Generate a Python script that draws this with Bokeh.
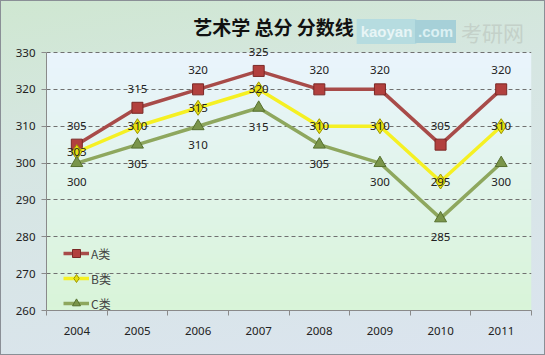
import numpy as np
from bokeh.plotting import figure
from bokeh.models import FixedTicker, Legend, LegendItem, Label, Range1d
from bokeh.embed import file_html
from bokeh.resources import INLINE
from bokeh.core.properties import value

years = ["2004", "2005", "2006", "2007", "2008", "2009", "2010", "2011"]
a_vals = [305, 315, 320, 325, 320, 320, 305, 320]
b_vals = [303, 310, 315, 320, 310, 310, 295, 310]
c_vals = [300, 305, 310, 315, 305, 300, 285, 300]
y_ticks = [260, 270, 280, 290, 300, 310, 320, 330]
title_text = "艺术学 总分 分数线"

xs = list(range(len(years)))
FONT = "Noto Sans"

# layout in pixels
W, H = 545, 355
LEFT, RIGHT, BOTTOM = 45, 15, 46
AREA_TOP = 51                      # pixel row of the top of the value area
frame_h = H - BOTTOM
y_lo, y_hi = y_ticks[0], y_ticks[-1]
area_h = frame_h - AREA_TOP
y_top = y_lo + (y_hi - y_lo) * frame_h / area_h   # frame extends over the title band

p = figure(width=W, height=H, output_backend="svg", toolbar_location=None,
           x_range=Range1d(-0.5, len(years) - 0.5), y_range=Range1d(y_lo, y_top),
           min_border_left=LEFT, min_border_right=RIGHT, min_border_top=0,
           min_border_bottom=BOTTOM)
p.border_fill_alpha = 0
p.background_fill_alpha = 0
p.outline_line_color = None
p.styles = {"background": "linear-gradient(170deg, #cfe7d1 0%, #d6e6e2 35%, #dbe4ef 100%)",
            "border": "1px solid #8a8f96", "box-sizing": "border-box"}

# plot-area gradient (light blue at top to light green at bottom)
n = 64
top = np.array([234, 244, 253], dtype=float)
bot = np.array([217, 245, 217], dtype=float)
img = np.zeros((n, 1), dtype=np.uint32)
view = img.view(dtype=np.uint8).reshape((n, 1, 4))
for i in range(n):
    t = i / (n - 1)
    c = bot * (1 - t) + top * t
    view[i, 0, 0:3] = c.astype(np.uint8)
    view[i, 0, 3] = 255
p.image_rgba(image=[img], x=-0.5, y=y_lo, dw=len(years), dh=y_hi - y_lo, level="image")

# axes
p.xaxis.ticker = FixedTicker(ticks=xs, minor_ticks=[i - 0.5 for i in range(len(years) + 1)])
p.xaxis.major_label_overrides = {i: y for i, y in enumerate(years)}
p.xaxis.major_tick_line_color = None
p.xaxis.minor_tick_in = 0
p.xaxis.minor_tick_out = 5
p.xaxis.minor_tick_line_color = "#8a8a8a"
p.xaxis.axis_line_color = "#8a8a8a"
p.xaxis.major_label_standoff = 10
p.yaxis.ticker = FixedTicker(ticks=y_ticks)
p.yaxis.bounds = (y_lo, y_hi)
p.yaxis.minor_tick_line_color = None
p.yaxis.major_tick_in = 0
p.yaxis.major_tick_out = 5
p.yaxis.major_tick_line_color = "#8a8a8a"
p.yaxis.axis_line_color = "#8a8a8a"
p.yaxis.major_label_standoff = 6
for ax in (p.xaxis, p.yaxis):
    ax.major_label_text_font = FONT
    ax.major_label_text_font_size = "11.5px"
    ax.major_label_text_color = "#222222"

p.xgrid.grid_line_color = None
p.ygrid.ticker = FixedTicker(ticks=y_ticks[1:])
p.ygrid.grid_line_color = "#707070"
p.ygrid.grid_line_dash = "4 3"
p.ygrid.grid_line_width = 1

# series
series = [
    (a_vals, "A类", "#a84b49", "square", "#b2403e", "#7a2826", 11, -19),
    (b_vals, "B类", "#f5f023", "diamond", "#e6e010", "#9c9600", 15, 0),
    (c_vals, "C类", "#8ea75e", "triangle", "#7a954a", "#56702e", 12, 19),
]
items = []
for vals, name, lc, mk, fc, ec, sz, off in series:
    l = p.line(xs, vals, line_color=lc, line_width=3.5)
    m = p.scatter(xs, vals, marker=mk, size=sz, fill_color=fc, line_color=ec, line_width=1)
    items.append(LegendItem(label=name, renderers=[l, m]))
for vals, name, lc, mk, fc, ec, sz, off in series:
    p.text(xs, vals, text=[str(v) for v in vals], y_offset=off,
           text_align="center", text_baseline="middle",
           text_font=value(FONT), text_font_size="11.5px", text_color="#222222")

legend = Legend(items=items, location=(17, -3), border_line_alpha=0,
                background_fill_alpha=0, label_text_font="Noto Sans CJK SC",
                label_text_font_size="12px", glyph_width=26, glyph_height=20,
                label_height=20, spacing=5, padding=0, margin=0, label_standoff=2)
p.add_layout(legend)

# title and watermark
p.add_layout(Label(x=271, y=24, x_units="canvas", y_units="canvas", text=title_text,
                   text_align="center", text_baseline="middle",
                   text_font="Noto Sans CJK SC", text_font_style="bold",
                   text_font_size="19px", text_color="#111111"))
p.add_layout(Label(x=384, y=29, x_units="canvas", y_units="canvas", text="kaoyan",
                   text_align="center", text_baseline="middle", text_font="Liberation Sans",
                   text_font_style="bold", text_font_size="15px", text_color="#e8f5f6",
                   background_fill_color="#b6dce0", padding=4))
p.add_layout(Label(x=433, y=29, x_units="canvas", y_units="canvas", text=".com",
                   text_align="center", text_baseline="middle", text_font="Liberation Sans",
                   text_font_style="bold", text_font_size="15px", text_color="#dcf0f3",
                   background_fill_color="#a6d0d8", padding=3))
p.add_layout(Label(x=490, y=29, x_units="canvas", y_units="canvas", text="考研网",
                   text_align="center", text_baseline="middle", text_font="Noto Sans CJK SC",
                   text_font_size="21px", text_color="#c4d1c9"))

open("out.html", "w").write(file_html(p, INLINE))
